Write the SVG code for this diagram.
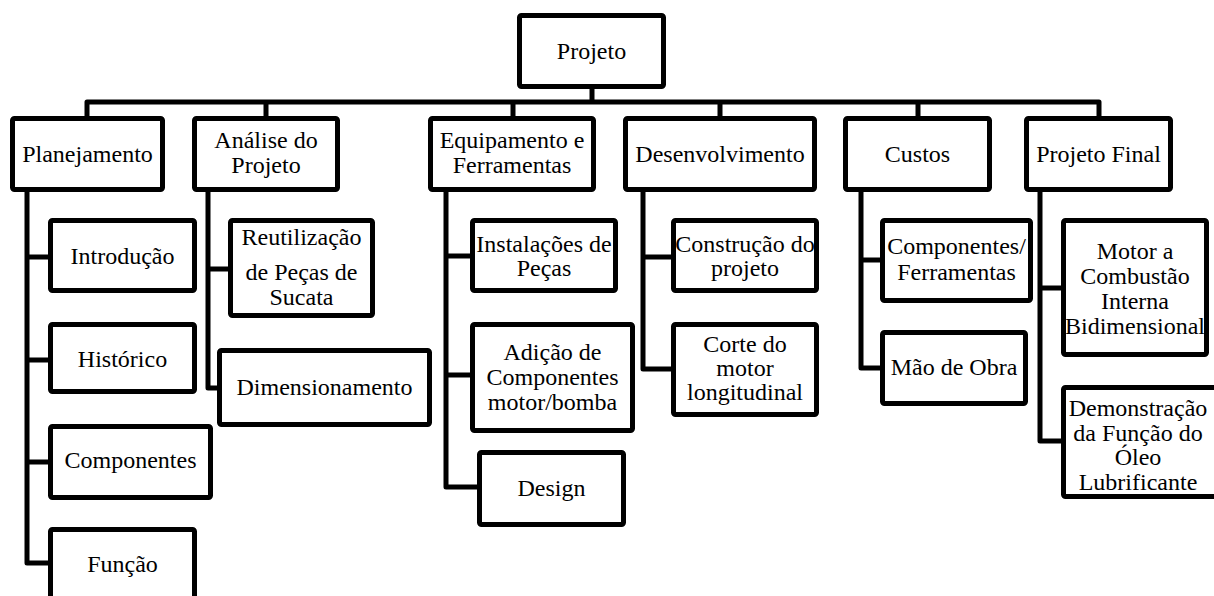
<svg xmlns="http://www.w3.org/2000/svg" width="1214" height="596" viewBox="0 0 1214 596">
<style>
.box{fill:#fff;stroke:#000;stroke-width:5;stroke-linejoin:round}
.con{fill:none;stroke:#000;stroke-width:5;stroke-linejoin:round}
.t text{font-size:24px;fill:#000;text-anchor:middle}
</style>
<rect width="1214" height="596" fill="#fff"/>
<g id="connectors">
<path class="con" d="M592 89 V102 M87 118 V102 H1099 V118 M266 102 V118 M513 102 V118 M720 102 V118 M918 102 V118"/>
<path class="con" d="M27 190 V563 H50 M27 257 H50 M27 360 H50 M27 462 H50"/>
<path class="con" d="M208 190 V388 H219 M208 269 H230"/>
<path class="con" d="M446 190 V487 H479 M446 256 H472 M446 375 H472"/>
<path class="con" d="M643 190 V369 H673 M643 257 H673"/>
<path class="con" d="M861 190 V368 H882 M861 260 H882"/>
<path class="con" d="M1040 190 V441 H1063 M1040 288 H1063"/>
</g>
<g class="t" font-family="Liberation Serif" font-size="24" text-anchor="middle">
<g id="projeto"><rect class="box" x="519.5" y="15.5" width="144" height="71" rx="2"/><text x="591.5" y="59">Projeto</text></g>
<g id="planejamento"><rect class="box" x="12.5" y="118.5" width="150" height="71" rx="2"/><text x="87.5" y="162">Planejamento</text></g>
<g id="analise"><rect class="box" x="194.5" y="118.5" width="143" height="71" rx="2"/><text x="266" y="148">Análise do</text><text x="266" y="173">Projeto</text></g>
<g id="equipamento"><rect class="box" x="430.5" y="118.5" width="163" height="71" rx="2"/><text x="512" y="148">Equipamento e</text><text x="512" y="173">Ferramentas</text></g>
<g id="desenvolvimento"><rect class="box" x="625.5" y="118.5" width="189" height="71" rx="2"/><text x="720" y="162">Desenvolvimento</text></g>
<g id="custos"><rect class="box" x="845.5" y="118.5" width="144" height="71" rx="2"/><text x="917.5" y="162">Custos</text></g>
<g id="projeto-final"><rect class="box" x="1026.5" y="118.5" width="144" height="71" rx="2"/><text x="1098.5" y="162">Projeto Final</text></g>
<g id="introducao"><rect class="box" x="50.5" y="220.5" width="144" height="70" rx="2"/><text x="122.5" y="264">Introdução</text></g>
<g id="historico"><rect class="box" x="50.5" y="324.5" width="144" height="67" rx="2"/><text x="122.5" y="367">Histórico</text></g>
<g id="componentes"><rect class="box" x="50.5" y="426.5" width="160" height="71" rx="2"/><text x="130.5" y="468">Componentes</text></g>
<g id="funcao"><rect class="box" x="50.5" y="529.5" width="144" height="72" rx="2"/><text x="122.5" y="572">Função</text></g>
<g id="reutilizacao"><rect class="box" x="230.5" y="220.5" width="142" height="95" rx="2"/><text x="301.5" y="245">Reutilização</text><text x="301.5" y="280">de Peças de</text><text x="301.5" y="305">Sucata</text></g>
<g id="dimensionamento"><rect class="box" x="219.5" y="350.5" width="210" height="74" rx="2"/><text x="324.5" y="395">Dimensionamento</text></g>
<g id="instalacoes"><rect class="box" x="472.5" y="220.5" width="143" height="70" rx="2"/><text x="544" y="252">Instalações de</text><text x="544" y="276">Peças</text></g>
<g id="adicao"><rect class="box" x="472.5" y="324.5" width="160" height="106" rx="2"/><text x="552.5" y="360">Adição de</text><text x="552.5" y="385">Componentes</text><text x="552.5" y="410">motor/bomba</text></g>
<g id="design"><rect class="box" x="479.5" y="452.5" width="144" height="72" rx="2"/><text x="551.5" y="496">Design</text></g>
<g id="construcao"><rect class="box" x="673.5" y="220.5" width="143" height="70" rx="2"/><text x="745" y="252">Construção do</text><text x="745" y="276">projeto</text></g>
<g id="corte"><rect class="box" x="673.5" y="324.5" width="143" height="90" rx="2"/><text x="745" y="352">Corte do</text><text x="745" y="376">motor</text><text x="745" y="400">longitudinal</text></g>
<g id="componentes-ferramentas"><rect class="box" x="882.5" y="220.5" width="148" height="80" rx="2"/><text x="956.5" y="254">Componentes/</text><text x="956.5" y="280">Ferramentas</text></g>
<g id="mao-de-obra"><rect class="box" x="882.5" y="332.5" width="143" height="71" rx="2"/><text x="954" y="375">Mão de Obra</text></g>
<g id="motor"><rect class="box" x="1063.5" y="220.5" width="143" height="134" rx="2"/><text x="1135" y="259">Motor a</text><text x="1135" y="284">Combustão</text><text x="1135" y="309">Interna</text><text x="1135" y="334">Bidimensional</text></g>
<g id="demonstracao"><rect class="box" x="1063.5" y="387.5" width="155" height="109" rx="2"/><text x="1138" y="416">Demonstração</text><text x="1138" y="441">da Função do</text><text x="1138" y="465">Óleo</text><text x="1138" y="490">Lubrificante</text></g>
</g>
</svg>
